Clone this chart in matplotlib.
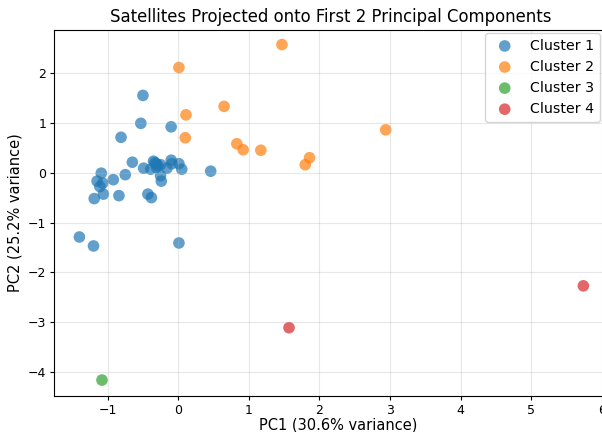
import numpy as np
import matplotlib
matplotlib.use("Agg")
import matplotlib.pyplot as plt

# PCA coordinates, per cluster
c1_x = [-0.50, -0.53, -0.10, -0.81, -0.65, -0.35, -0.31, -0.25, -0.49, -0.39,
        -0.31, -0.16, -0.10, -0.09, 0.01, 0.05, 0.46, -0.25, -0.24, -0.75,
        -0.92, -1.09, -1.15, -1.07, -1.11, -1.06, -1.19, -0.84, -0.43, -0.38,
        -1.40, -1.20, 0.01, -0.33, -0.29]
c1_y = [1.55, 0.99, 0.92, 0.71, 0.21, 0.23, 0.18, 0.16, 0.09, 0.07,
        0.11, 0.09, 0.25, 0.18, 0.18, 0.07, 0.03, -0.06, -0.17, -0.04,
        -0.14, -0.01, -0.17, -0.21, -0.28, -0.43, -0.52, -0.46, -0.43, -0.50,
        -1.29, -1.47, -1.41, 0.20, 0.14]
c2_x = [1.47, 0.01, 0.65, 0.11, 0.10, 0.83, 0.92, 1.17, 1.86, 1.80, 2.94]
c2_y = [2.57, 2.11, 1.33, 1.16, 0.70, 0.58, 0.46, 0.45, 0.30, 0.16, 0.86]
c3_x = [-1.08]
c3_y = [-4.16]
c4_x = [1.57, 5.74]
c4_y = [-3.11, -2.27]

clusters = [(c1_x, c1_y), (c2_x, c2_y), (c3_x, c3_y), (c4_x, c4_y)]
labels = ["Cluster 1", "Cluster 2", "Cluster 3", "Cluster 4"]
colors = ["#1f77b4", "#ff7f0e", "#2ca02c", "#d62728"]

fig = plt.figure(figsize=(6.02, 4.32), dpi=100)
ax = fig.add_axes([0.0897, 0.0833, 0.945, 0.847])

for (xs, ys), lab, col in zip(clusters, labels, colors):
    ax.scatter(xs, ys, s=70, alpha=0.7, color=col, label=lab, edgecolors="none")

ax.set_xlim(-1.76, 6.3)
ax.set_ylim(-4.48, 2.86)
ax.set_xticks(range(-1, 7))
ax.set_yticks(range(-4, 3))
ax.tick_params(labelsize=9, length=3, pad=2.5)
ax.grid(True, alpha=0.3)
ax.set_title("Satellites Projected onto First 2 Principal Components", fontsize=11.9, x=0.487)
ax.set_xlabel("PC1 (30.6% variance)", fontsize=10.5, labelpad=0.5)
ax.set_ylabel("PC2 (25.2% variance)", fontsize=10.5, labelpad=4)
ax.legend(loc="upper right", bbox_to_anchor=(0.9967, 0.9236), bbox_transform=fig.transFigure,
          borderaxespad=0, fontsize=10.2)

fig.savefig("out.png", dpi=100)
